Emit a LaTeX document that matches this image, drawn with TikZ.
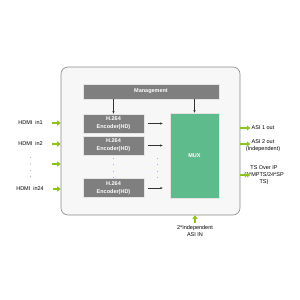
\documentclass[tikz,border=0pt]{standalone}
\usepackage{fontspec}
\setmainfont{Liberation Sans}
\usetikzlibrary{arrows.meta}
\definecolor{blockgray}{HTML}{7F7F7F}
\definecolor{muxgreen}{HTML}{5DBB8C}
\definecolor{sigarrow}{HTML}{8DC21F}
\definecolor{framefill}{HTML}{F7F7F7}
\definecolor{frameline}{HTML}{8A8A8A}
\definecolor{dotlilac}{HTML}{A9A6EE}
\begin{document}
\begin{tikzpicture}[x=1pt,y=-1pt,font=\fontsize{5.5}{7}\selectfont,
	chassis/.style={draw=frameline, fill=framefill, rounded corners=7pt, line width=0.6pt, minimum width=179pt, minimum height=148pt},
	graybox/.style={fill=blockgray, draw=white!80!gray, line width=0.5pt, text=white, font=\fontsize{5.5}{8}\selectfont\bfseries, align=center, inner sep=0pt},
	muxbox/.style={fill=muxgreen, draw=white!80!gray, line width=0.5pt, text=white, font=\fontsize{5.5}{7}\selectfont\bfseries, minimum width=49pt, minimum height=85pt},
	lbl/.style={align=center, inner sep=0pt},
	garrow/.style={draw=sigarrow, line width=1.6pt, -{Triangle[length=3.5pt,width=5pt]}},
	karrow/.style={draw=black!80, line width=0.5pt, -{Stealth[length=2.5pt,width=2pt]}},
	vdots/.style={draw=dotlilac, line width=0.9pt, dash pattern=on 0.9pt off 5.5pt}]
	\useasboundingbox (0,0) rectangle (300,300);
	\node[chassis] (frame) at (150.5,141) {};
	\node[graybox, minimum width=136pt, minimum height=15pt] (mgmt) at (151,91.5) {Management};
	\node[graybox, minimum width=61pt, minimum height=19pt] (enc1) at (113.5,123.5) {H.264\\Encoder(HD)};
	\node[graybox, minimum width=61pt, minimum height=19pt] (enc2) at (113.5,145.5) {H.264\\Encoder(HD)};
	\node[graybox, minimum width=61pt, minimum height=19pt] (enc24) at (113.5,188) {H.264\\Encoder(HD)};
	\node[muxbox] (mux) at (194.5,155.5) {MUX};
	\draw[karrow] (mgmt.south -| enc1.north) -- (enc1.north);
	\draw[karrow] (mgmt.south -| mux.north) -- (mux.north);
	\draw[karrow, shorten <=4pt, shorten >=7pt] (enc1.east) -- (enc1.east -| mux.west);
	\draw[karrow, shorten <=4pt, shorten >=7pt] (enc2.east) -- (enc2.east -| mux.west);
	\draw[karrow, shorten <=4pt, shorten >=7pt] (enc24.east) -- (enc24.east -| mux.west);
	\draw[vdots] (113.5,158) -- (113.5,178);
	\draw[vdots] (157,158) -- (157,178);
	\node[lbl, anchor=east] (in1) at (43,123) {HDMI\ \ in1};
	\node[lbl, anchor=east] (in2) at (43,144) {HDMI\ \ in2};
	\coordinate (in3) at (43,164);
	\node[lbl, anchor=east] (in24) at (44,189) {HDMI\ \ in24};
	\draw[vdots] (30,157) -- (30,178);
	\foreach \src in {in1,in2,in3,in24}
		\draw[garrow, shorten <=9pt] (\src.east) -- (\src.east -| frame.west);
	\node[lbl] (out1) at (263,128) {ASI 1 out};
	\node[lbl] (out2) at (263,146) {ASI 2 out\\(Independent)};
	\node[lbl] (out3) at (264,175) {TS Over IP\\(1*MPTS/24*SP\\TS)};
	\draw[garrow] (out1 -| frame.east) -- ++(10,0);
	\draw[garrow] ([yshift=2pt]out2.west -| frame.east) -- ++(10,0);
	\draw[garrow] (out3 -| frame.east) -- ++(10,0);
	\node[lbl] (asiin) at (195,231) {2*Independent\\ASI IN};
	\draw[garrow, shorten <=2pt] (asiin.north) -- (asiin.north |- frame.south);
\end{tikzpicture}
\end{document}
